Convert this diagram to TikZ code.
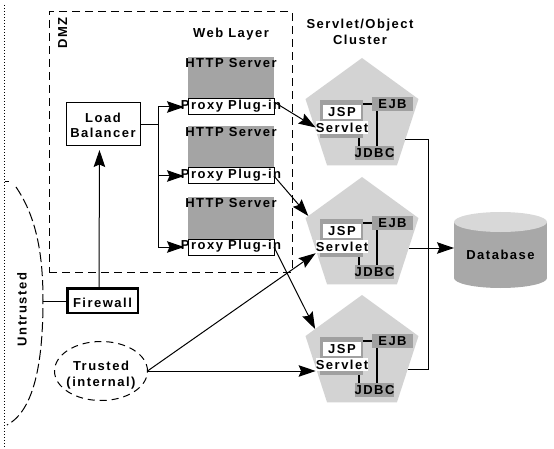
\documentclass[tikz,border=0pt]{standalone}
\usepackage{fontspec}
\setmainfont{Liberation Sans}[LetterSpace=11.5]
\usetikzlibrary{arrows.meta,shapes.geometric,calc}
\definecolor{httpgray}{HTML}{A4A4A4}
\definecolor{pentgray}{HTML}{D3D3D3}
\definecolor{boxgray}{HTML}{A0A0A0}
\definecolor{dbbody}{HTML}{A8A8A8}
\definecolor{dbtop}{HTML}{D8D8D8}
\tikzset{
  lbl/.style={font=\fontsize{13}{16}\selectfont\bfseries, inner sep=0pt, text height=9.4pt, text depth=0pt},
  conn/.style={line width=1pt},
  arr/.style={line width=1pt, -{Stealth[length=17pt,width=11.5pt,inset=2.5pt]}},
  thk/.style={line width=2pt},
  plainbox/.style={inner sep=0pt, outer sep=0pt},
}
\begin{document}
\begin{tikzpicture}[x=1pt,y=-1pt]
\useasboundingbox (0,0) rectangle (554,449);

% left dotted border
\draw[line width=1.3pt, dash pattern=on 1.3pt off 1.7pt] (4.5,5) -- (4.5,447);
\draw[line width=1pt] (4.5,182) -- (8.5,182);

% DMZ
\node[draw, line width=1pt, dash pattern=on 8pt off 5pt, plainbox, minimum width=243pt, minimum height=260pt, anchor=north west] (dmz) at (49,12) {};
\node[lbl, rotate=90] (dmzl) at (62.5,33) {DMZ};
\node[lbl] (wl) at (231,33) {Web Layer};
\node[lbl] (soc1) at (360,24) {Servlet/Object};
\node[lbl] (soc2) at (360,40) {Cluster};

% HTTP servers
\foreach \i/\t in {1/57,2/126,3/197}{
  \node[fill=httpgray, plainbox, minimum width=86pt, minimum height=58pt, anchor=north west] (h\i) at (188,\t) {};
  \node[lbl] (ht\i) at (231,{\t+6}) {HTTP Server};
  \node[draw, fill=white, line width=1pt, plainbox, minimum width=86pt, minimum height=16pt, anchor=north west] (px\i) at (188,{\t+42}) {};
  \node[lbl] (pt\i) at (231,{\t+48}) {Proxy Plug-in};
}

% Load balancer
\node[draw, line width=1pt, fill=white, plainbox, minimum width=74pt, minimum height=43pt] (lb) at (103,124.5) {};
\node[lbl] (lbt1) at (103,118) {Load};
\node[lbl] (lbt2) at (103,133) {Balancer};

% Firewall
\node[draw, line width=2.5pt, plainbox, minimum width=70.5pt, minimum height=24.5pt] (fw) at (102.5,300.5) {};
\node[lbl] (fwt) at (102.5,302.5) {Firewall};

% Untrusted boundary
\draw[line width=1pt, dash pattern=on 10pt off 4pt] (16,187) .. controls (35,215) and (43,250) .. (43,300) .. controls (43,360) and (35,410) .. (7,425);
\coordinate (ut) at (43,301.5);
\node[lbl, rotate=90] (utl) at (22,309.5) {Untrusted};

% Trusted
\node[ellipse, draw, line width=1pt, dash pattern=on 7pt off 5pt, plainbox, minimum width=93pt, minimum height=59pt] (tr) at (101,371) {};
\node[lbl] (trt1) at (101,365.5) {Trusted};
\node[lbl] (trt2) at (101,382) {(internal)};

% Pentagons
\foreach \i/\y in {1/58,2/177,3/295}{
  \node[regular polygon, regular polygon sides=5, minimum size=118.8pt, fill=pentgray, plainbox] (p\i) at (362,{\y+59.4}) {};
  \node[fill=boxgray, plainbox, minimum width=43pt, minimum height=38pt, anchor=north west] (ct\i) at (320,{\y+42}) {};
  \node[fill=white, lbl, minimum width=38pt, minimum height=14pt] (js\i) at (342,{\y+54}) {JSP};
  \node[fill=white, lbl, minimum width=52pt, minimum height=13pt] (sv\i) at (342,{\y+69.5}) {Servlet};
  \node[fill=boxgray, lbl, minimum width=41pt, minimum height=14pt] (ej\i) at (392.5,{\y+46}) {EJB};
  \node[fill=boxgray, lbl, minimum width=39pt, minimum height=14pt] (jd\i) at (374.5,{\y+95}) {JDBC};
  \draw[thk] (ct\i.north east |- ej\i.west) -- (ej\i.west);
  \path (ej\i.south west) ++(5,0) coordinate (a\i);
  \draw[thk] (a\i) -- (a\i |- jd\i.north);
  \path (ct\i.south east) ++(-4,0) coordinate (b\i);
  \draw[thk] (b\i) -- (b\i |- jd\i.north);
}

% Database
\fill[dbbody] (454,222) rectangle (547,278);
\fill[dbbody] (500.5,278) ellipse [x radius=46.5pt, y radius=10pt];
\fill[dbtop] (500.5,222) ellipse [x radius=46.5pt, y radius=10pt];
\node[plainbox, minimum width=93pt, minimum height=76pt] (db) at (500.5,250) {};
\node[lbl] (dbt) at (500.5,255) {Database};

% connectors: firewall, load balancer
\draw[conn] (ut) -- (ut -| fw.west);
\draw[arr, shorten >=4pt] ([xshift=-3.5pt]fw.north) -- ([xshift=-3.5pt]lb.south);
\coordinate (lbj) at (158,124.5);
\draw[conn] (lb.east) -- (lbj);
\draw[conn] (lbj |- px1.west) -- (lbj |- px3.west);
\foreach \i in {1,2,3}{
  \draw[arr, shorten >=4pt] (lbj |- px\i.west) -- (px\i.west);
}

% proxies to cluster
\draw[arr] ([yshift=-3pt]px1.north east) -- (sv1.west);
\draw[arr] (px2.east) -- ($(p2.corner 2)!0.05!(p2.corner 1)$);
\draw[arr] (px3.east) -- ($(p3.corner 2)!0.17!(p3.corner 1)$);

% trusted to cluster
\draw[arr] (tr.east) -- (sv2.south west);
\draw[arr] (tr.east) -- (tr.east -| sv3.west);

% cluster to database
\coordinate (e1) at ($(p1.center)+(43.2,22.6)$);
\coordinate (e2) at ($(p2.center)+(47,11.6)$);
\coordinate (e3) at ($(p3.center)+(45.8,14.6)$);
\coordinate (bus1) at (428,140);
\coordinate (bus3) at (428,369);
\draw[conn] (e1) -- (bus1) -- (bus3) -- (e3);
\draw[arr] (e2) -- (e2 -| db.west);
\end{tikzpicture}
\end{document}
